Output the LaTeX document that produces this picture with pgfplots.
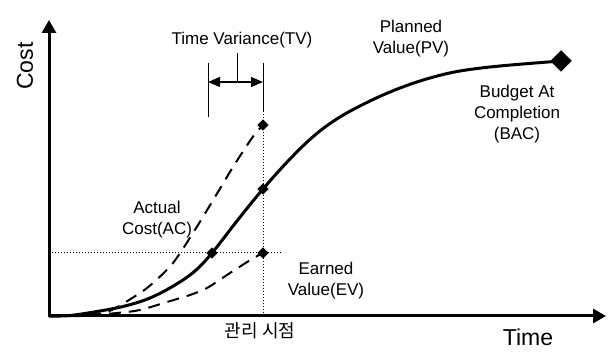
\documentclass[border=0pt]{standalone}
\usepackage{pgfplots}
\pgfplotsset{compat=1.18}
\usepackage{fontspec}
\setmainfont{Liberation Sans}
\newfontfamily\kr{Noto Sans CJK KR}
\usetikzlibrary{arrows.meta}
\begin{document}
\begin{tikzpicture}
\begin{axis}[
  hide axis, scale only axis,
  width=308pt, height=179pt,
  xmin=0, xmax=616, ymin=-42, ymax=316,
  clip=false,
]
\path (axis cs:0,-42) rectangle (axis cs:616,316);
% axes
\draw[line width=1.5pt,-{Triangle[length=6.5pt,width=7pt]}] (axis cs:49,-1) -- (axis cs:49,296);
\draw[line width=1.5pt,-{Triangle[length=6.5pt,width=7pt]}] (axis cs:48,0) -- (axis cs:606,0);
% dotted guides
\draw[line width=0.5pt,dash pattern=on 0.5pt off 1pt] (axis cs:49,63) -- (axis cs:283,63);
\draw[line width=0.5pt,dash pattern=on 0.5pt off 1pt] (axis cs:263,0) -- (axis cs:263,204);
% TV markers
\draw[line width=0.5pt] (axis cs:263,204) -- (axis cs:263,253);
\draw[line width=0.5pt] (axis cs:208,199) -- (axis cs:208,253);
\draw[line width=0.5pt] (axis cs:237,234) -- (axis cs:237,263);
\draw[line width=0.6pt,{Triangle[length=6pt,width=5pt]}-{Triangle[length=6pt,width=5pt]}] (axis cs:208,234) -- (axis cs:263,234);
% PV
\addplot[line width=1.5pt, smooth, tension=0.6] coordinates {
(49,0) (70,0.5) (100,5) (125,10) (150,18) (175,31) (195,45) (212,63) (237,95) (263,127) (290,157) (315,181) (340,199) (370,215) (400,228) (430,238) (460,245) (500,250) (561,255)};
% AC
\addplot[line width=1pt, dash pattern=on 6pt off 4pt, smooth, tension=0.5] coordinates {
(49,0) (80,1) (107,4) (137,21) (153,33) (173,53) (193,83) (215,119) (233,149) (252,178) (263,191)};
% EV
\addplot[line width=1pt, dash pattern=on 6pt off 4pt, smooth, tension=0.5] coordinates {
(49,0) (80,0) (117,3) (140,6) (167,14) (190,21) (207,28) (230,43) (252,57) (263,63)};
% markers
\addplot[only marks, mark=square*, mark size=1.8pt, mark options={rotate=45}] coordinates {(263,191) (263,127) (212,63) (263,63)};
\addplot[only marks, mark=square*, mark size=3.6pt, mark options={rotate=45}] coordinates {(561,255)};
% labels
\node[rotate=90, font=\fontsize{11.5}{13}\selectfont] at (axis cs:25,250) {Cost};
\node[font=\fontsize{11.5}{13}\selectfont] at (axis cs:528,-21) {Time};
\node[font=\kr\fontsize{9}{11}\selectfont] at (axis cs:260,-15) {관리 시점};
\node[font=\fontsize{8.5}{10.5}\selectfont] at (axis cs:242,276) {Time Variance(TV)};
\node[align=center, font=\fontsize{8.5}{10.5}\selectfont] at (axis cs:411,277) {Planned\\Value(PV)};
\node[align=center, font=\fontsize{8.5}{10.5}\selectfont] at (axis cs:517,202) {Budget At\\Completion\\(BAC)};
\node[align=center, font=\fontsize{8.5}{10.5}\selectfont] at (axis cs:157,96) {Actual\\Cost(AC)};
\node[align=center, font=\fontsize{8.5}{10.5}\selectfont] at (axis cs:326,35) {Earned\\Value(EV)};
\end{axis}
\end{tikzpicture}
\end{document}
